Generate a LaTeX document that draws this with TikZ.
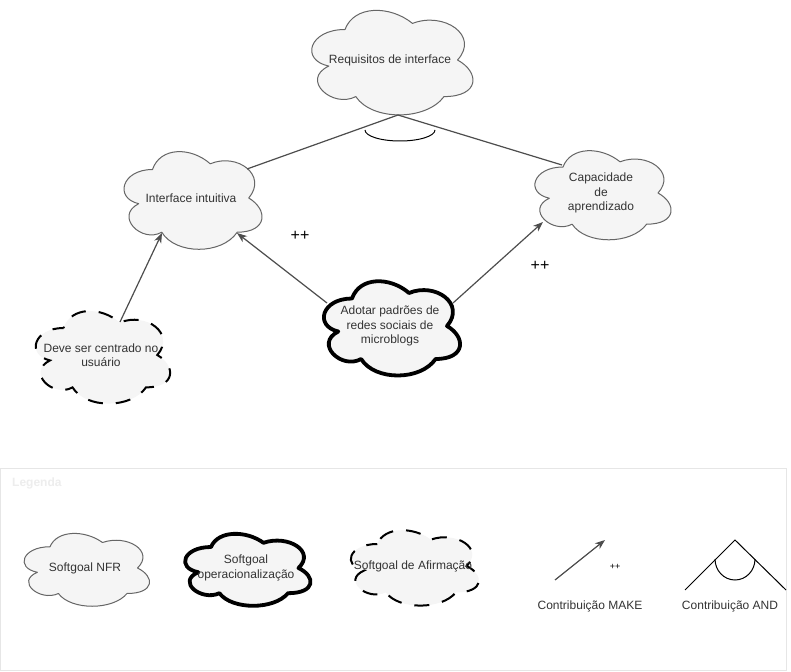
\documentclass[tikz,border=0pt]{standalone}
\usepackage{fontspec}
\setmainfont{Liberation Sans}
\usetikzlibrary{arrows.meta}
\definecolor{txt}{HTML}{333333}
\definecolor{sgfill}{HTML}{F5F5F5}
\definecolor{sgline}{HTML}{666666}
\definecolor{conn}{HTML}{4D4D4D}
\definecolor{legline}{HTML}{E6E6E6}
\definecolor{legtxt}{HTML}{EDEDED}
\tikzset{
  sgnfr/.style={fill=sgfill, draw=sgline, line width=1pt, line join=round},
  sgop/.style={fill=sgfill, draw=black, line width=3.8pt, line join=round},
  sgaf/.style={fill=sgfill, draw=black, line width=2pt, dash pattern=on 15pt off 13pt, dash phase=4pt},
  sgtext/.style={inner sep=0pt, align=center, text=txt, font=\fontsize{12}{14.5}\selectfont},
  make/.style={draw=conn, line width=1.2pt, -{Stealth[length=10pt,width=7.5pt,inset=3pt]}},
  andline/.style={draw=conn, line width=1.2pt},
  andarc/.style={draw=black, line width=1pt},
  plus/.style={inner sep=0pt, text=black, font=\fontsize{16}{16}\selectfont},
  legtext/.style={inner sep=0pt, text=txt, font=\fontsize{12}{14}\selectfont},
}
% #1 name, #2 style, #3 cx, #4 cy, #5 w, #6 h, #7 text
\newcommand\softgoal[7]{%
  \draw[#2, shift={(#3-#5/2,#4-#6/2)}, xscale=#5, yscale=#6]
    (0.25,0.25) .. controls (0.05,0.25) and (0,0.5) .. (0.16,0.55)
    .. controls (0,0.66) and (0.18,0.9) .. (0.31,0.8)
    .. controls (0.4,1) and (0.7,1) .. (0.8,0.8)
    .. controls (1,0.8) and (1,0.6) .. (0.875,0.5)
    .. controls (1,0.3) and (0.8,0.1) .. (0.625,0.2)
    .. controls (0.5,0.05) and (0.3,0.05) .. (0.25,0.25) -- cycle;
  \node[sgtext] (#1) at (#3,#4) {#7};
}
\begin{document}
\begin{tikzpicture}[x=1pt,y=-1pt]
\fill[white] (0,0) rectangle (791,671);
\useasboundingbox (0,0) rectangle (791,671);

% legend frame
\draw[draw=legline, line width=1pt] (0.5,468) rectangle (786,670);
\node[anchor=west, inner sep=0pt, text=legtxt, font=\bfseries\fontsize{12}{14}\selectfont] (legtitle) at (12,483) {Legenda};

% main softgoals
\softgoal{req}{sgnfr}{390}{60}{180}{122}{Requisitos de interface}
\softgoal{int}{sgnfr}{191}{198}{154}{114}{Interface intuitiva}
\softgoal{cap}{sgnfr}{601}{193}{152}{104}{Capacidade\\de\\aprendizado}
\softgoal{ado}{sgop}{390}{326}{152}{110}{Adotar padrões de\\redes sociais de\\microblogs}
\softgoal{dev}{sgaf}{101}{355}{150}{108}{Deve ser centrado no\\usuário}

% AND decomposition
\draw[andline] ([shift={(8,55)}]req.center) -- ([shift={(56,-29)}]int.center);
\draw[andline] ([shift={(8,55)}]req.center) -- ([shift={(-39,-28)}]cap.center);
\draw[andarc] ([shift={(-25,70)}]req.center) arc[start angle=180, end angle=360, x radius=35pt, y radius=11pt];

% contributions
\draw[make] ([shift={(19,-33)}]dev.center) -- ([shift={(-29,35)}]int.center);
\draw[make] ([shift={(-63,-23)}]ado.center) -- ([shift={(46,35)}]int.center);
\draw[make] ([shift={(63,-23)}]ado.center) -- ([shift={(-58,29)}]cap.center);
\node[plus] (pp1) at (300,236) {++};
\node[plus] (pp2) at (540,266) {++};

% legend items
\softgoal{lnfr}{sgnfr}{85}{568}{140}{85}{Softgoal NFR}
\softgoal{lop}{sgop}{246}{568}{140}{84}{Softgoal\\operacionalização}
\softgoal{laf}{sgaf}{413}{566}{143}{88}{Softgoal de Afirmação}

\coordinate (mks) at (555,580);
\coordinate (mke) at (605,540);
\draw[make] (mks) -- (mke);
\node[inner sep=0pt, text=black, font=\fontsize{9}{9}\selectfont] (lpp) at (615,567) {++};
\node[legtext] (lmake) at (590,606) {Contribuição MAKE};

\coordinate (lal) at (685,590);
\coordinate (lat) at (735,540);
\coordinate (lar) at (786,590);
\draw[andarc] (lal) -- (lat) -- (lar);
\draw[andarc] (715,559) arc[start angle=180, end angle=360, x radius=20pt, y radius=21pt];
\node[legtext] (land) at (730,606) {Contribuição AND};
\end{tikzpicture}
\end{document}
